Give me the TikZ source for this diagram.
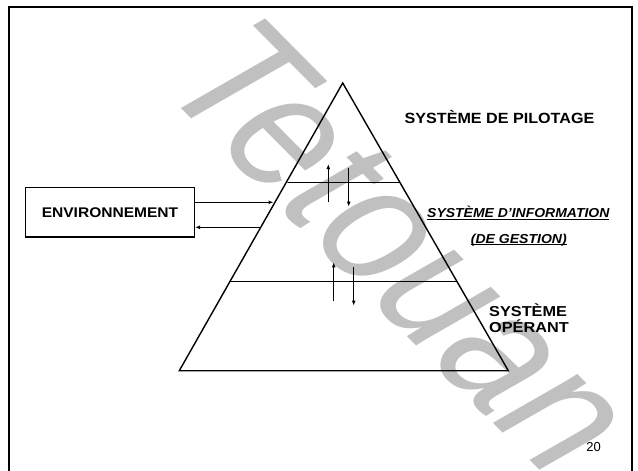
\documentclass[tikz,border=0pt]{standalone}
\usepackage{fontspec}
\usepackage{graphicx}
\setmainfont{Liberation Sans}
\usetikzlibrary{arrows.meta}
\newcommand\ulin[1]{\setbox0\hbox{#1}\rlap{\rule[-2pt]{\wd0}{0.9pt}}\box0}
\definecolor{wmgray}{RGB}{192,192,192}
\tikzset{
  edge/.style={line width=1.4pt, line cap=round},
  arr/.style={line width=1.1pt, -{Latex[length=5pt,width=3.8pt]}},
  lbl/.style={inner sep=0pt, anchor=base, font=\bfseries\fontsize{14.8}{17}\selectfont},
  ilbl/.style={inner sep=0pt, anchor=base, font=\bfseries\itshape\fontsize{13}{15}\selectfont},
}
\begin{document}
\begin{tikzpicture}[x=1pt,y=-1pt]
\useasboundingbox (0,0) rectangle (638,471);
\fill[white] (0,0) rectangle (638,471);
% watermark
\begin{scope}[xscale=1.1]
\node[wmgray, inner sep=0pt, anchor=base, transform shape, rotate=-48,
      font=\itshape\fontsize{170}{172}\selectfont] (wm) at (323,284) {\scalebox{0.88}[1]{Tetouan}};
\end{scope}
% frame
\coordinate (fbl) at (9,471);
\coordinate (ftl) at (9,7);
\coordinate (ftr) at (632,7);
\coordinate (fbr) at (632,471);
\draw[line width=2pt] (fbl) -- (ftl) -- (ftr) -- (fbr);
% pyramid
\coordinate (A) at (342.7,83);
\coordinate (B) at (179.3,370.7);
\coordinate (C) at (508.3,370.7);
\draw[edge, line join=miter] (A) -- (B) -- (C) -- cycle;
\coordinate (l1a) at (288,182.7);
\coordinate (l1b) at (398.5,182.7);
\coordinate (l2a) at (229.8,281.7);
\coordinate (l2b) at (457,281.7);
\draw[edge] (l1a) -- (l1b);
\draw[edge] (l2a) -- (l2b);
% environment box
\node[draw, line width=1.4pt, minimum width=168.6pt, minimum height=49.7pt, inner sep=0pt,
      font=\bfseries\fontsize{14}{16}\selectfont] (env) at (110,212.2) {\scalebox{1.11}[1]{ENVIRONNEMENT}};
\coordinate (p1) at (273.5,202.3);
\coordinate (p2) at (259.5,227.3);
\draw[arr] (env.east |- p1) -- (p1);
\draw[arr] (p2) -- (env.east |- p2);
% vertical arrows
\coordinate (u1s) at (328.3,202.3);
\coordinate (u1e) at (328.3,164);
\coordinate (d1s) at (348.7,168.3);
\coordinate (d1e) at (348.7,206.7);
\coordinate (u2s) at (333.7,301);
\coordinate (u2e) at (333.7,262.3);
\coordinate (d2s) at (353.7,267.3);
\coordinate (d2e) at (353.7,305.7);
\draw[arr] (u1s) -- (u1e);
\draw[arr] (d1s) -- (d1e);
\draw[arr] (u2s) -- (u2e);
\draw[arr] (d2s) -- (d2e);
% labels
\node[lbl] (pil) at (499.5,123.3) {\scalebox{1.09}[1]{SYSTÈME DE PILOTAGE}};
\node[ilbl] (inf1) at (518.3,217.7) {\scalebox{1.075}[1]{\ulin{SYSTÈME D’INFORMATION}}};
\node[ilbl] (inf2) at (518.8,243.3) {\scalebox{1.08}[1]{\ulin{(DE GESTION)}}};
\node[lbl, anchor=base west, font=\bfseries\fontsize{14.4}{17}\selectfont] (op1) at (489,316.3) {\scalebox{1.13}[1]{SYSTÈME}};
\node[lbl, anchor=base west, font=\bfseries\fontsize{14.4}{17}\selectfont] (op2) at (489,332.3) {\scalebox{1.13}[1]{OPÉRANT}};
\node[inner sep=0pt, anchor=base, font=\fontsize{13}{15}\selectfont] (pg) at (593.5,451.7) {20};
\end{tikzpicture}
\end{document}
